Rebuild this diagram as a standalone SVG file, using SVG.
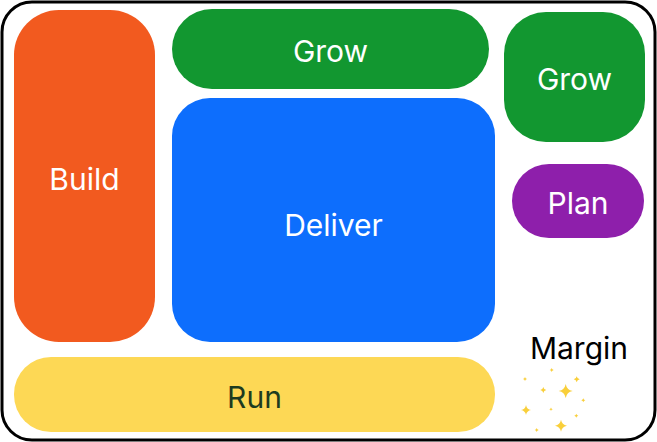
<svg xmlns="http://www.w3.org/2000/svg" width="657" height="442" viewBox="0 0 657 442">
<defs>
<style>
.t{font-family:Inter,"Noto Sans",sans-serif;font-size:30px;fill:#fff;text-anchor:middle;dominant-baseline:central}
.s{fill:#f9cf3a}
</style>
<path id="sp" d="M0,-1 Q0.15,-0.15 1,0 Q0.15,0.15 0,1 Q-0.15,0.15 -1,0 Q-0.15,-0.15 0,-1Z"/>
</defs>
<rect x="2" y="2" width="653" height="438" rx="30" fill="#fff" stroke="#000" stroke-width="3"/>
<g id="build"><rect x="14" y="10" width="141" height="332" rx="45" fill="#f25a1f"/><text class="t" x="84.5" y="178.5">Build</text></g>
<g id="grow1"><rect x="172" y="9" width="317" height="80" rx="40" fill="#129730"/><text class="t" x="330.5" y="50.5">Grow</text></g>
<g id="grow2"><rect x="504" y="12" width="141" height="130" rx="42" fill="#129730"/><text class="t" x="574.5" y="78.5">Grow</text></g>
<g id="deliver"><rect x="172" y="98" width="323" height="244" rx="38" fill="#0d6efd"/><text class="t" x="333.5" y="224.5">Deliver</text></g>
<g id="plan"><rect x="512" y="164" width="132" height="74" rx="37" fill="#8e1fab"/><text class="t" x="578" y="202.5">Plan</text></g>
<g id="run"><rect x="14" y="357" width="481" height="75" rx="37" fill="#fdd855"/><text class="t" x="254.5" y="396.5" style="fill:#1d3b1f">Run</text></g>
<g id="margin"><text class="t" x="579" y="347.5" style="fill:#000">Margin</text>
<g class="s">
<use href="#sp" transform="translate(551.7,370) scale(2)"/>
<use href="#sp" transform="translate(525,379) scale(2)"/>
<use href="#sp" transform="translate(576.7,379.3) scale(3)"/>
<use href="#sp" transform="translate(543.3,390) scale(3)"/>
<use href="#sp" transform="translate(565.7,391) scale(7)"/>
<use href="#sp" transform="translate(583.3,400.3) scale(2)"/>
<use href="#sp" transform="translate(526,410) scale(5)"/>
<use href="#sp" transform="translate(551,409.3) scale(1.8)"/>
<use href="#sp" transform="translate(576.3,415.7) scale(2)"/>
<use href="#sp" transform="translate(561,425.7) scale(6)"/>
<use href="#sp" transform="translate(536.7,430) scale(2)"/>
</g></g>
</svg>
